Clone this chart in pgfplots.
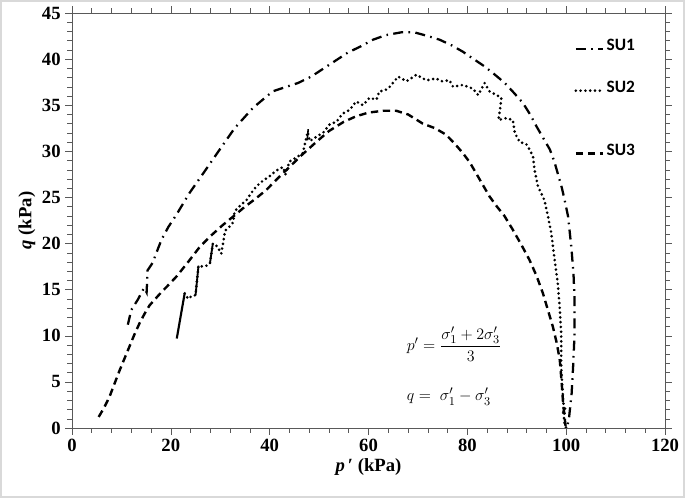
\documentclass[border=0pt]{standalone}
\usepackage{amsmath}
\usepackage{fontspec}
\setmainfont{Liberation Serif}
\newfontfamily\legfont{Carlito}
\usepackage{pgfplots}
\pgfplotsset{compat=1.18}
\begin{document}
\begin{tikzpicture}
\begin{axis}[
  scale only axis,
  width=444.75pt, height=311.25pt,
  xmin=0, xmax=120, ymin=0, ymax=45,
  xtick={0,20,...,120}, ytick={0,5,...,45},
  minor tick num=4,
  tick align=outside,
  major tick length=5pt, minor tick length=3.5pt,
  axis line style={gray!70!black},
  every tick/.style={gray!70!black},
  every minor tick/.style={gray!70!black},
  /pgf/number format/assume math mode=true,
  ticklabel style={font=\fontsize{14}{16}\selectfont\bfseries},
  xlabel={\textit{p}\,′ (kPa)},
  ylabel={\textit{q} (kPa)},
  label style={font=\fontsize{14}{16}\selectfont\bfseries},
  xlabel style={yshift=2pt},
  ylabel style={yshift=-2pt},
  legend cell align=left,
  legend style={draw=none, fill=none, at={(axis cs:101.6,42.3)}, anchor=north west,
    inner sep=0pt, font=\legfont\bfseries\fontsize{13}{14}\selectfont,
    nodes={inner ysep=0pt, text height=9pt, text depth=6.75pt, inner xsep=1.5pt}},
  legend image code/.code={\draw[#1] (0cm,0cm) -- (0.72cm,0cm);},
]
% SU1
\addplot[black, line width=1.7pt, dash pattern=on 7.5pt off 4pt on 1.2pt off 4pt] coordinates {
(11.3,11.2)(12.0,12.8)(13.3,13.9)(14.6,15.2)(15.1,14.7)(15.3,17.1)(16.3,17.9)(17.3,19.3)(18.1,20.4)(19.5,21.8)(21.1,23.1)(23.8,25.5)(26.8,27.8)(29.9,30.2)(32.9,32.5)(36.6,34.7)(40.6,36.5)(43.4,37.0)(45.7,37.4)(48.4,38.1)(52.1,39.4)(55.8,40.7)(58.5,41.4)(60.9,42.1)(63.5,42.6)(66.6,42.9)(69.3,42.9)(72,42.5)(74.4,42.1)(76.8,41.5)(79.1,40.8)(81.3,40.0)(83.5,39.2)(85.6,38.3)(87.6,37.4)(89.5,36.3)(91.3,35.2)(92.7,34.0)(94.0,32.7)(95.4,31.4)(96.7,30.2)(97.6,28.9)(98.3,27.6)(99.1,26.1)(99.7,24.7)(100.4,22.9)(101.1,19.3)(101.5,16.5)(101.7,13.8)(101.7,10.2)(101.4,6.6)(101.1,3.7)(100.6,1.2)(100.2,0.1)
};
\addlegendentry{SU1}
\addlegendimage{empty legend}\addlegendentry{}
% SU2
\addplot[black, line width=2.2pt, line cap=round, dash pattern=on 0pt off 3.6pt] coordinates {
(22.8,14.6)(23.5,14.0)(24.2,14.3)(25.0,14.4)(25.6,17.6)(26.5,17.5)(27.2,17.6)(27.9,17.8)(28.5,20.0)(29.4,19.7)(30.2,18.9)(31.0,21.4)(31.8,21.8)(32.6,22.3)(32.9,23.5)(34.2,24.2)(35.3,24.7)(36.3,25.5)(37.3,26.2)(38.6,26.8)(40,27.3)(41.3,27.9)(42.7,28.3)(43.2,27.5)(44,28.9)(45.3,29.3)(46.7,29.8)(47.7,32.1)(48.1,31.1)(49.5,31.6)(50.8,32)(52.1,32.9)(53.5,33.2)(54.8,34.1)(56.2,34.5)(57.5,35.4)(58.9,35.0)(60.2,35.8)(61.6,35.6)(62.2,36.5)(63.3,36.6)(64.3,37.0)(66,38.1)(67.7,37.6)(69.7,38.3)(71.7,37.7)(73.7,37.9)(74.7,37.6)(76.4,37.7)(77.1,37.0)(79.1,37.2)(81.1,36.8)(82.2,36.1)(83.5,37.4)(84.5,36.5)(85.9,36.1)(86.9,35.8)(86.6,34.5)(86.3,33.4)(87.9,33.6)(89.2,33.4)(89.6,32.0)(90.6,31.0)(91.9,30.8)(92.6,30.2)(93.3,29.4)(93.6,28.0)(94.3,26.2)(95.6,24.7)(96.3,23.0)(97.0,21.1)(97.6,18.5)(98.3,15.7)(98.7,13.0)(99.0,10.2)(99.0,8.4)(99.0,6.6)(99.2,4.8)(99.4,3.0)(99.6,1.8)(99.2,1.5)(99.8,2.2)(99.5,0.8)(100,0)
};
\addlegendentry{SU2}
\addlegendimage{empty legend}\addlegendentry{}
\addlegendimage{empty legend}\addlegendentry{}
% SU3
\addplot[black, line width=1.8pt, dash pattern=on 5.5pt off 3.5pt] coordinates {
(5.4,1.2)(6.5,2.2)(7.6,3.4)(8.6,4.8)(9.6,6.2)(10.6,7.5)(11.6,8.8)(12.6,10.1)(13.7,11.4)(14.7,12.4)(15.7,13.3)(17.7,14.5)(19.5,15.5)(21.1,16.4)(23.5,18.0)(25.8,19.6)(28,20.8)(30.5,22.0)(33,23.1)(35,24.0)(37,24.8)(39.3,25.8)(41.5,27.0)(44,28.3)(46.5,29.6)(49.4,31.0)(52,32.2)(55,33.2)(57.5,33.8)(60,34.2)(63,34.4)(65.6,34.4)(68,34.0)(71,33.0)(73.5,32.5)(75.7,31.8)(77.5,30.8)(79.1,29.8)(80.5,28.8)(81.8,27.6)(83.2,26.3)(84.5,25.1)(86,24.0)(87.5,23.0)(89.2,21.5)(91,19.8)(92.6,18.2)(94,16.5)(95.3,14.6)(96.3,12.8)(97.3,11.0)(98.1,9.2)(98.7,7.4)(99,5.5)(99.2,4.1)(99.4,2.5)(99.6,1.6)(99.9,0.1)
};
\addlegendentry{SU3}
% solid jumps of SU2
\addplot[black, line width=1.6pt, forget plot] coordinates {(21.2,9.7)(22.8,14.6)};
\addplot[black, line width=1.4pt, forget plot] coordinates {(25.0,14.4)(25.6,17.6)};
\addplot[black, line width=1.4pt, forget plot] coordinates {(27.9,17.8)(28.5,20.0)};
\addplot[black, line width=1.2pt, forget plot] coordinates {(47.6,31.2)(47.8,32.4)};
\node[anchor=west, font=\fontsize{12.5}{14}\selectfont] at (axis cs:66.8,9.1) {$p' = \dfrac{\sigma_1'+2\sigma_3'}{3}$};
\node[anchor=west, font=\fontsize{12.5}{14}\selectfont] at (axis cs:66.8,3.4) {$q = \;\sigma_1' - \sigma_3'$};
\end{axis}
\draw[gray!30, line width=1.5pt] (-53.25pt,-51.75pt) rectangle (459pt,320.25pt);
\end{tikzpicture}
\end{document}
